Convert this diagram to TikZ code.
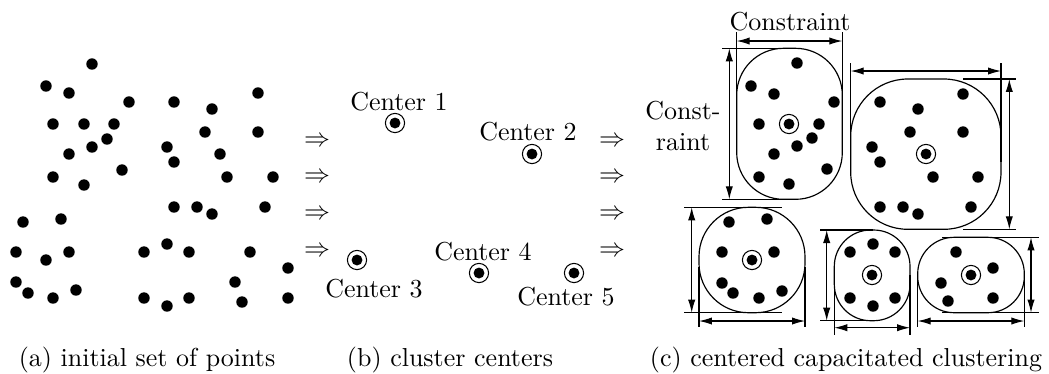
\documentclass[tikz,border=0pt]{standalone}
\usetikzlibrary{arrows.meta}
\tikzset{
  centre/.style={circle,draw,inner sep=0pt,minimum size=7.4pt,
    path picture={\fill (path picture bounding box.center) circle[radius=2.1pt];}},
  caption/.style={anchor=base},
  cluster/.style={line width=0.45pt}
}
\begin{document}
\begin{tikzpicture}[x=0.385pt,y=-0.385pt,>={Latex[length=5pt,width=2.8pt]}]
\useasboundingbox (0,0) rectangle (1049,373);

% (a) initial set of points.
\foreach \p in {(92,64),(46,86),(69,93),(129,102),(174,102),(258,93),(212,109),
  (53,124),(84,124),(114,124),(107,139),(92,147),(69,154),(167,147),(205,132),
  (258,132),(174,162),(220,154),(122,170),(53,177),(84,185),(227,177),(273,177),
  (174,207),(197,207),(212,214),(265,207),(23,222),(61,219),(16,252),(46,260),
  (69,252),(144,252),(167,244),(189,252),(250,252),(288,268),(16,282),(28,293),
  (53,298),(76,290),(144,298),(167,306),(189,298),(235,282),(242,302),(288,298)}
  \fill \p circle[radius=2.2pt];

% Implication arrows between the panels.
\foreach \y in {142,178,215,252} {
  \node (la\y) at (317,\y) {$\Rightarrow$};
  \node (ra\y) at (612,\y) {$\Rightarrow$};
}

% (b) cluster centers.
\node[centre] (c1) at (395,123) {};
\node[anchor=base] (c1l) at (399,110) {Center 1};
\node[centre] (c2) at (532,154) {};
\node[anchor=base] (c2l) at (528,140) {Center 2};
\node[centre] (c3) at (357,260) {};
\node[anchor=base] (c3l) at (374,297) {Center 3};
\node[centre] (c4) at (479,273) {};
\node[anchor=base] (c4l) at (483,260) {Center 4};
\node[centre] (c5) at (574,273) {};
\node[anchor=base] (c5l) at (566,305) {Center 5};

% (c) cluster 1, with its two constraint dimensions.
\draw[cluster,rounded corners=18pt] (736.7,48.3) rectangle (842.3,199.3);
\node[centre] (k1) at (789,124) {};
\foreach \p in {(797,63),(751,86),(774,94),(834,102),(759,124),(819,124),
  (812,138),(797,146),(774,154),(827,169),(759,177),(789,184)}
  \fill \p circle[radius=2.2pt];
\draw (736.7,32) -- (736.7,124);
\draw (842.3,32) -- (842.3,124);
\draw[<->] (736.7,41) -- (842.3,41);
\node[anchor=base] (cw) at (790,30) {Constraint};
\draw (722,48.3) -- (782,48.3);
\draw (722,199.3) -- (782,199.3);
\draw[<->] (729.3,48.3) -- (729.3,199.3);
\node[align=center] (ch) at (683,126) {Const-\\raint};

% Cluster 2.
\draw[cluster,rounded corners=22pt] (850.7,79) rectangle (1001,229.3);
\node[centre] (k2) at (926,154) {};
\foreach \p in {(880,102),(918,109),(963,94),(910,132),(963,132),(872,147),
  (880,162),(933,177),(978,177),(880,207),(903,207),(918,214),(971,207)}
  \fill \p circle[radius=2.2pt];
\draw (850.7,63) -- (850.7,162);
\draw (1001,63) -- (1001,162);
\draw[<->] (850.7,71) -- (1001,71);
\draw (963,79) -- (1016,79);
\draw (963,229.3) -- (1016,229.3);
\draw[<->] (1009.3,79) -- (1009.3,229.3);

% Cluster 3.
\draw[cluster,rounded corners=19pt] (699,207.3) rectangle (805,312.7);
\node[centre] (k3) at (752,260) {};
\foreach \p in {(729,222),(767,219),(722,252),(774,252),(722,283),(733,293),
  (759,298),(782,291)}
  \fill \p circle[radius=2.2pt];
\draw (684,207.3) -- (782,207.3);
\draw (684,312.7) -- (782,312.7);
\draw[<->] (691.7,207.3) -- (691.7,312.7);
\draw (699,267) -- (699,327);
\draw (805,267) -- (805,327);
\draw[<->] (699,321) -- (805,321);

% Cluster 4.
\draw[cluster,rounded corners=14pt] (834.3,230) rectangle (910,320.7);
\node[centre] (k4) at (872,275) {};
\foreach \p in {(873,244),(850,252),(895,252),(850,298),(895,298),(873,306)}
  \fill \p circle[radius=2.2pt];
\draw (820,230) -- (873,230);
\draw (820,320.7) -- (873,320.7);
\draw[<->] (826.7,230) -- (826.7,320.7);
\draw (834.3,275) -- (834.3,335);
\draw (910,275) -- (910,335);
\draw[<->] (834.3,327.7) -- (910,327.7);

% Cluster 5.
\draw[cluster,rounded corners=14pt] (917.7,237.3) rectangle (1024.3,312.7);
\node[centre] (k5) at (971,275) {};
\foreach \p in {(956,252),(993,268),(941,283),(948,301),(993,298)}
  \fill \p circle[radius=2.2pt];
\draw (942,237.3) -- (1039.3,237.3);
\draw (942,312.7) -- (1039.3,312.7);
\draw[<->] (1031,237.3) -- (1031,312.7);
\draw (917.7,275) -- (917.7,326.7);
\draw (1024.3,275) -- (1024.3,326.7);
\draw[<->] (917.7,321) -- (1024.3,321);

% Captions.
\node[caption] (capa) at (147,366) {(a) initial set of points};
\node[caption] (capb) at (450,366) {(b) cluster centers};
\node[caption] (capc) at (846,366) {(c) centered capacitated clustering};
\end{tikzpicture}
\end{document}
